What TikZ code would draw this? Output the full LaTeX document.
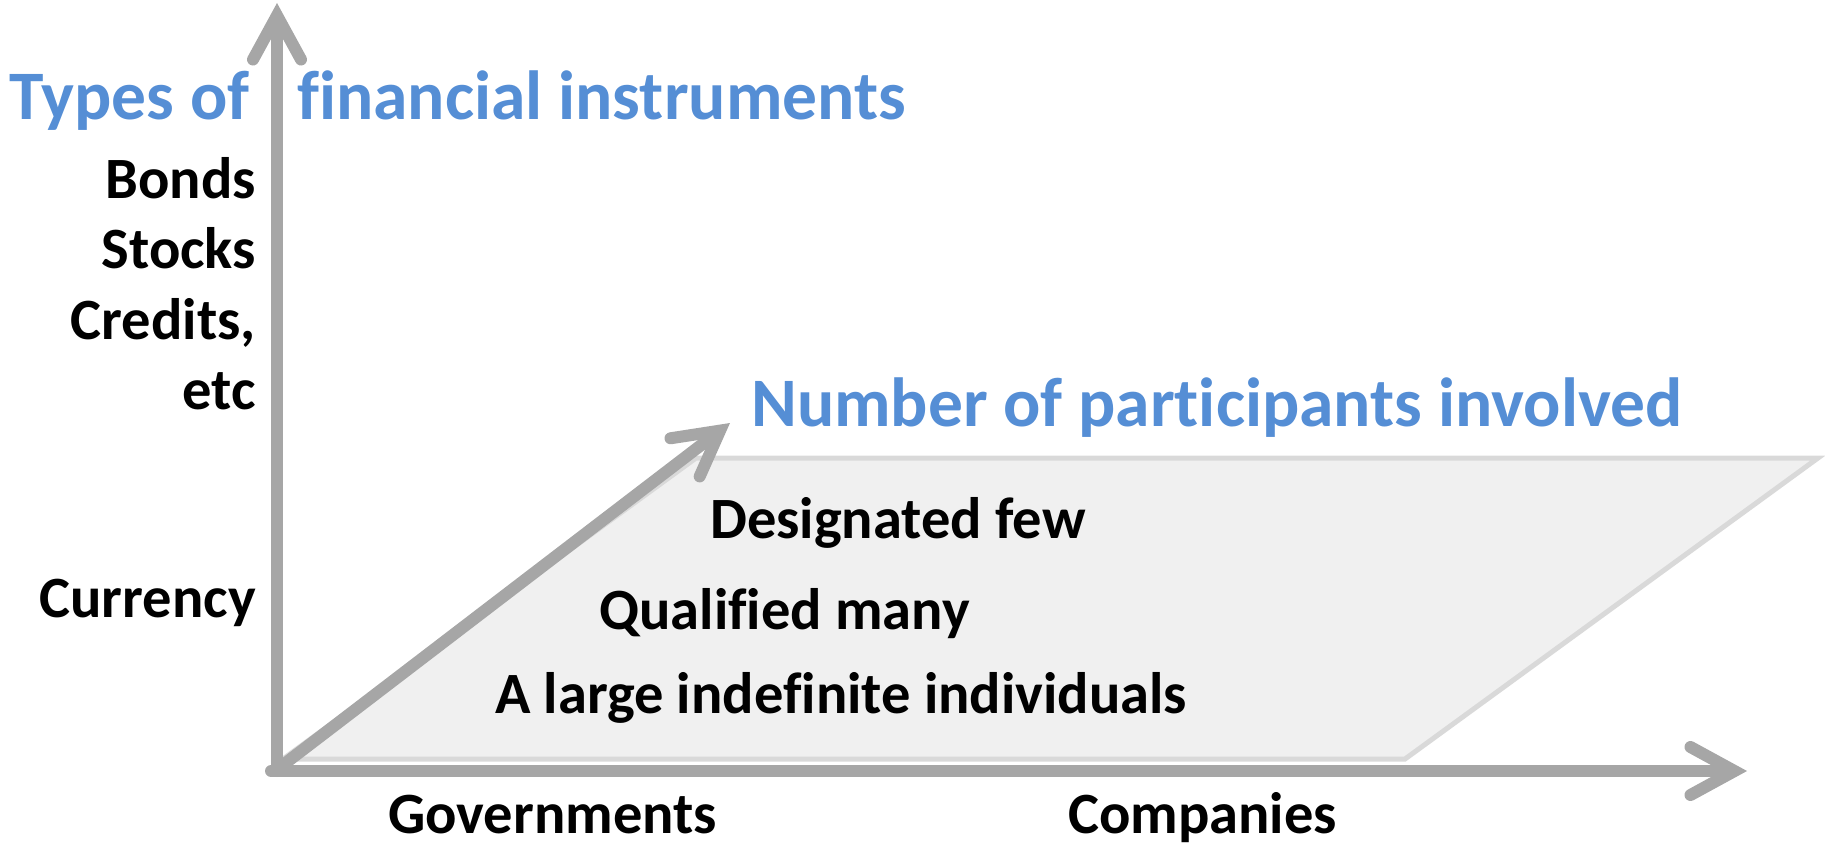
\documentclass[tikz,border=0pt]{standalone}
\usepackage{fontspec}
\setmainfont{Carlito}[Ligatures=NoCommon]
\usetikzlibrary{arrows.meta}
\definecolor{axisgray}{HTML}{A6A6A6}
\definecolor{planefill}{HTML}{F0F0F0}
\definecolor{planeline}{HTML}{D9D9D9}
\definecolor{titleblue}{HTML}{558ED5}
\tikzset{
  axisline/.style={draw=axisgray, line width=12pt, line cap=round,
    -{Straight Barb[length=44pt,width=48pt,line cap=round,line join=miter]}},
  plane/.style={fill=planefill, draw=planeline, line width=5pt, line join=miter},
  blacklabel/.style={inner sep=0pt, font=\fontsize{58.5}{70}\selectfont\bfseries, text=black},
  bluelabel/.style={inner sep=0pt, font=\fontsize{69.5}{83}\selectfont\bfseries, text=titleblue},
}
\begin{document}
\begin{tikzpicture}[x=1pt,y=-1pt]
\useasboundingbox (0,0) rectangle (1825,843);
% plane
\coordinate (pBL) at (283,759);
\coordinate (pBR) at (1405,759);
\coordinate (pTR) at (1818,458);
\coordinate (pTL) at (696,458);
\path[plane] (pBL) -- (pBR) -- (pTR) -- (pTL) -- cycle;
% axes
\coordinate (origin) at (277,771);
\coordinate (ytip) at (277,3);
\coordinate (xtip) at (1747,771);
\coordinate (dstart) at (283,765);
\coordinate (dtip) at (730,423);
\draw[axisline] (origin) -- (ytip);
\draw[axisline] ([xshift=-6pt]origin) -- (xtip);
\draw[axisline] (dstart) -- (dtip);
% titles
\node[bluelabel, anchor=base west] (t1) at (9,119) {Types of};
\node[bluelabel, anchor=base west] (t2) at (297,119) {financial instruments};
\node[bluelabel, anchor=base west] (t3) at (751,426) {Number of participants involved};
% vertical axis labels
\node[blacklabel, anchor=base east] (bonds) at (256,198) {Bonds};
\node[blacklabel, anchor=base east] (stocks) at (256,268) {Stocks};
\node[blacklabel, anchor=base east] (credits) at (256,339) {Credits,};
\node[blacklabel, anchor=base east] (etc) at (256,409) {etc};
\node[blacklabel, anchor=base east] (currency) at (256,617) {Currency};
% plane labels
\node[blacklabel, anchor=base west] (few) at (710,538) {Designated few};
\node[blacklabel, anchor=base west] (many) at (599,629) {Qualified many};
\node[blacklabel, anchor=base west] (large) at (495,713) {A large indefinite individuals};
% horizontal axis labels
\node[blacklabel, anchor=base west] (gov) at (388,833) {Governments};
\node[blacklabel, anchor=base west] (comp) at (1068,833) {Companies};
\end{tikzpicture}
\end{document}
